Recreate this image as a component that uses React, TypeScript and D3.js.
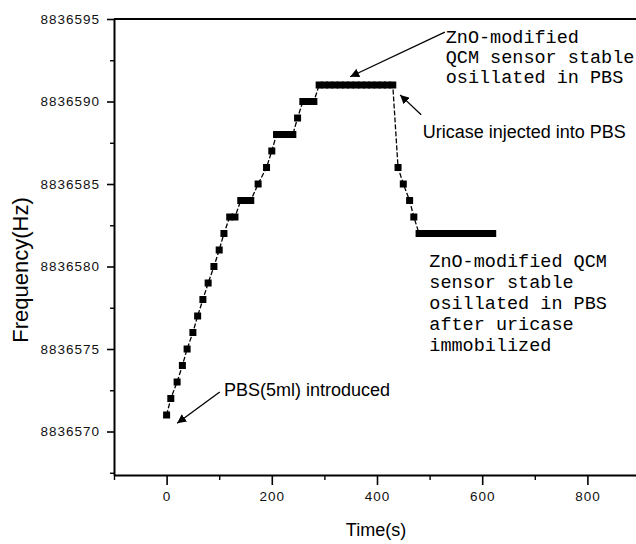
import { useEffect, useRef } from "react";
import * as d3 from "d3";

// time (s) and frequency (Hz)
const times = [
  0, 8, 20, 30, 39, 50, 59, 69, 79, 90, 100, 109, 120, 130, 141, 150, 160, 174,
  190, 200, 209, 219, 230, 240, 249, 259, 270, 280, 290, 300, 310, 320, 330,
  340, 350, 360, 370, 380, 390, 400, 410, 420, 430, 440, 450, 462, 470, 480,
  490, 500, 510, 520, 530, 540, 550, 560, 570, 580, 590, 600, 610, 620,
];
const freqs = [
  8836571, 8836572, 8836573, 8836574, 8836575, 8836576, 8836577, 8836578,
  8836579, 8836580, 8836581, 8836582, 8836583, 8836583, 8836584, 8836584,
  8836584, 8836585, 8836586, 8836587, 8836588, 8836588, 8836588, 8836588,
  8836589, 8836590, 8836590, 8836590, 8836591, 8836591, 8836591, 8836591,
  8836591, 8836591, 8836591, 8836591, 8836591, 8836591, 8836591, 8836591,
  8836591, 8836591, 8836591, 8836586, 8836585, 8836584, 8836583, 8836582,
  8836582, 8836582, 8836582, 8836582, 8836582, 8836582, 8836582, 8836582,
  8836582, 8836582, 8836582, 8836582, 8836582, 8836582,
];

const xMajor = [0, 200, 400, 600, 800];
const xMinor = [-100, 100, 300, 500, 700, 900];
const yMajor = [8836570, 8836575, 8836580, 8836585, 8836590, 8836595];
const yMinor = [8836567.5, 8836572.5, 8836577.5, 8836582.5, 8836587.5, 8836592.5];

const noteStable = ["ZnO-modified", "QCM sensor stable", "osillated in PBS"];
const noteAfter = [
  "ZnO-modified QCM",
  "sensor stable",
  "osillated in PBS",
  "after uricase",
  "immobilized",
];
const noteUricase = "Uricase injected into PBS";
const notePbs = "PBS(5ml) introduced";

const width = 636;
const height = 544;
const margin = { top: 19, right: -4, bottom: 69, left: 114 };

export default function App() {
  const ref = useRef<SVGSVGElement>(null);

  useEffect(() => {
    const svg = d3.select(ref.current);
    svg.selectAll("*").remove();

    const x = d3.scaleLinear().domain([-100, 900]).range([margin.left, width - margin.right]);
    const y = d3
      .scaleLinear()
      .domain([8836567.364, 8836595])
      .range([height - margin.bottom, margin.top]);

    const sans = "'Liberation Sans', Arial, sans-serif";
    const mono = "'Liberation Mono', 'Courier New', monospace";

    const defs = svg.append("defs");
    defs
      .append("marker")
      .attr("id", "head")
      .attr("viewBox", "0 0 10 10")
      .attr("refX", 10)
      .attr("refY", 5)
      .attr("markerWidth", 9)
      .attr("markerHeight", 9)
      .attr("markerUnits", "userSpaceOnUse")
      .attr("orient", "auto")
      .append("path")
      .attr("d", "M0,0L10,5L0,10Z")
      .attr("fill", "#000");

    // x axis
    const gx = svg.append("g").attr("transform", `translate(0,${y(y.domain()[0])})`);
    gx.call(d3.axisBottom(x).tickValues(xMajor).tickSize(10).tickSizeOuter(0).tickPadding(6))
      .call(g => g.select(".domain").attr("stroke-width", 2))
      .call(g => g.selectAll(".tick line").attr("stroke-width", 1.6))
      .selectAll("text")
      .style("font-family", sans)
      .style("font-size", "13.5px")
      .style("letter-spacing", "1px")
      .attr("fill", "#111");
    svg
      .append("g")
      .attr("transform", `translate(0,${y(y.domain()[0])})`)
      .call(d3.axisBottom(x).tickValues(xMinor).tickSize(5).tickFormat(() => ""))
      .call(g => g.select(".domain").remove())
      .call(g => g.selectAll(".tick line").attr("stroke-width", 1.4));

    // y axis
    svg
      .append("g")
      .attr("transform", `translate(${x(-100)},0)`)
      .call(d3.axisLeft(y).tickValues(yMajor).tickSize(7).tickSizeOuter(0).tickPadding(7).tickFormat(d3.format("d")))
      .call(g => g.select(".domain").attr("stroke-width", 2))
      .call(g => g.selectAll(".tick line").attr("stroke-width", 1.6))
      .selectAll("text")
      .style("font-family", sans)
      .style("font-size", "13.5px")
      .style("letter-spacing", "1px")
      .attr("fill", "#111");
    svg
      .append("g")
      .attr("transform", `translate(${x(-100)},0)`)
      .call(d3.axisLeft(y).tickValues(yMinor).tickSize(4).tickFormat(() => ""))
      .call(g => g.select(".domain").remove())
      .call(g => g.selectAll(".tick line").attr("stroke-width", 1.4));

    // top frame
    svg
      .append("line")
      .attr("x1", x(-100))
      .attr("x2", x(900))
      .attr("y1", y(8836595))
      .attr("y2", y(8836595))
      .attr("stroke", "#000")
      .attr("stroke-width", 2);

    // axis titles
    svg
      .append("text")
      .attr("transform", `translate(28,${(y.range()[0] + y.range()[1]) / 2 + 23}) rotate(-90)`)
      .attr("text-anchor", "middle")
      .style("font-family", sans)
      .style("font-size", "22px")
      .text("Frequency(Hz)");
    svg
      .append("text")
      .attr("x", x(400) - 1)
      .attr("y", 536)
      .attr("text-anchor", "middle")
      .style("font-family", sans)
      .style("font-size", "18px")
      .text("Time(s)");

    // series
    const pts = times.map((t, i) => ({ t, f: freqs[i] }));
    const line = d3
      .line<{ t: number; f: number }>()
      .x(d => x(d.t))
      .y(d => y(d.f));
    svg
      .append("path")
      .datum(pts)
      .attr("d", line)
      .attr("fill", "none")
      .attr("stroke", "#000")
      .attr("stroke-width", 1.3)
      .attr("stroke-dasharray", "5,2");
    svg
      .selectAll("rect.pt")
      .data(pts)
      .enter()
      .append("rect")
      .attr("class", "pt")
      .attr("x", d => x(d.t) - 3.5)
      .attr("y", d => y(d.f) - 3.5)
      .attr("width", 7)
      .attr("height", 7)
      .attr("fill", "#000");

    // annotations
    const arrows = [
      { t1: 529, f1: 8836594.2, t2: 349, f2: 8836591.5 },
      { t1: 484, f1: 8836589.2, t2: 444, f2: 8836590.4 },
      { t1: 101, f1: 8836572.4, t2: 20, f2: 8836570.5 },
    ];
    svg
      .selectAll("line.arrow")
      .data(arrows)
      .enter()
      .append("line")
      .attr("class", "arrow")
      .attr("x1", d => x(d.t1))
      .attr("y1", d => y(d.f1))
      .attr("x2", d => x(d.t2))
      .attr("y2", d => y(d.f2))
      .attr("stroke", "#000")
      .attr("stroke-width", 1.3)
      .attr("marker-end", "url(#head)");

    const t1 = svg
      .append("text")
      .attr("x", x(530.6))
      .attr("y", y(8836593.55))
      .style("font-family", mono)
      .style("font-size", "18.5px");
    noteStable.forEach((s, i) =>
      t1.append("tspan").attr("x", x(530.6)).attr("dy", i === 0 ? 0 : 20).text(s)
    );

    const t3 = svg
      .append("text")
      .attr("x", x(499.4))
      .attr("y", y(8836579.97))
      .style("font-family", mono)
      .style("font-size", "18.5px");
    noteAfter.forEach((s, i) =>
      t3.append("tspan").attr("x", x(499.4)).attr("dy", i === 0 ? 0 : 20.9).text(s)
    );

    svg
      .append("text")
      .attr("x", x(486.9))
      .attr("y", y(8836587.79))
      .style("font-family", sans)
      .style("font-size", "18px")
      .text(noteUricase);
    svg
      .append("text")
      .attr("x", x(109.1))
      .attr("y", y(8836572.15))
      .style("font-family", sans)
      .style("font-size", "18px")
      .text(notePbs);
  }, []);

  return (
    <svg
      ref={ref}
      width={width}
      height={height}
      style={{ position: "absolute", left: 0, top: 0, background: "#fff" }}
    />
  );
}
